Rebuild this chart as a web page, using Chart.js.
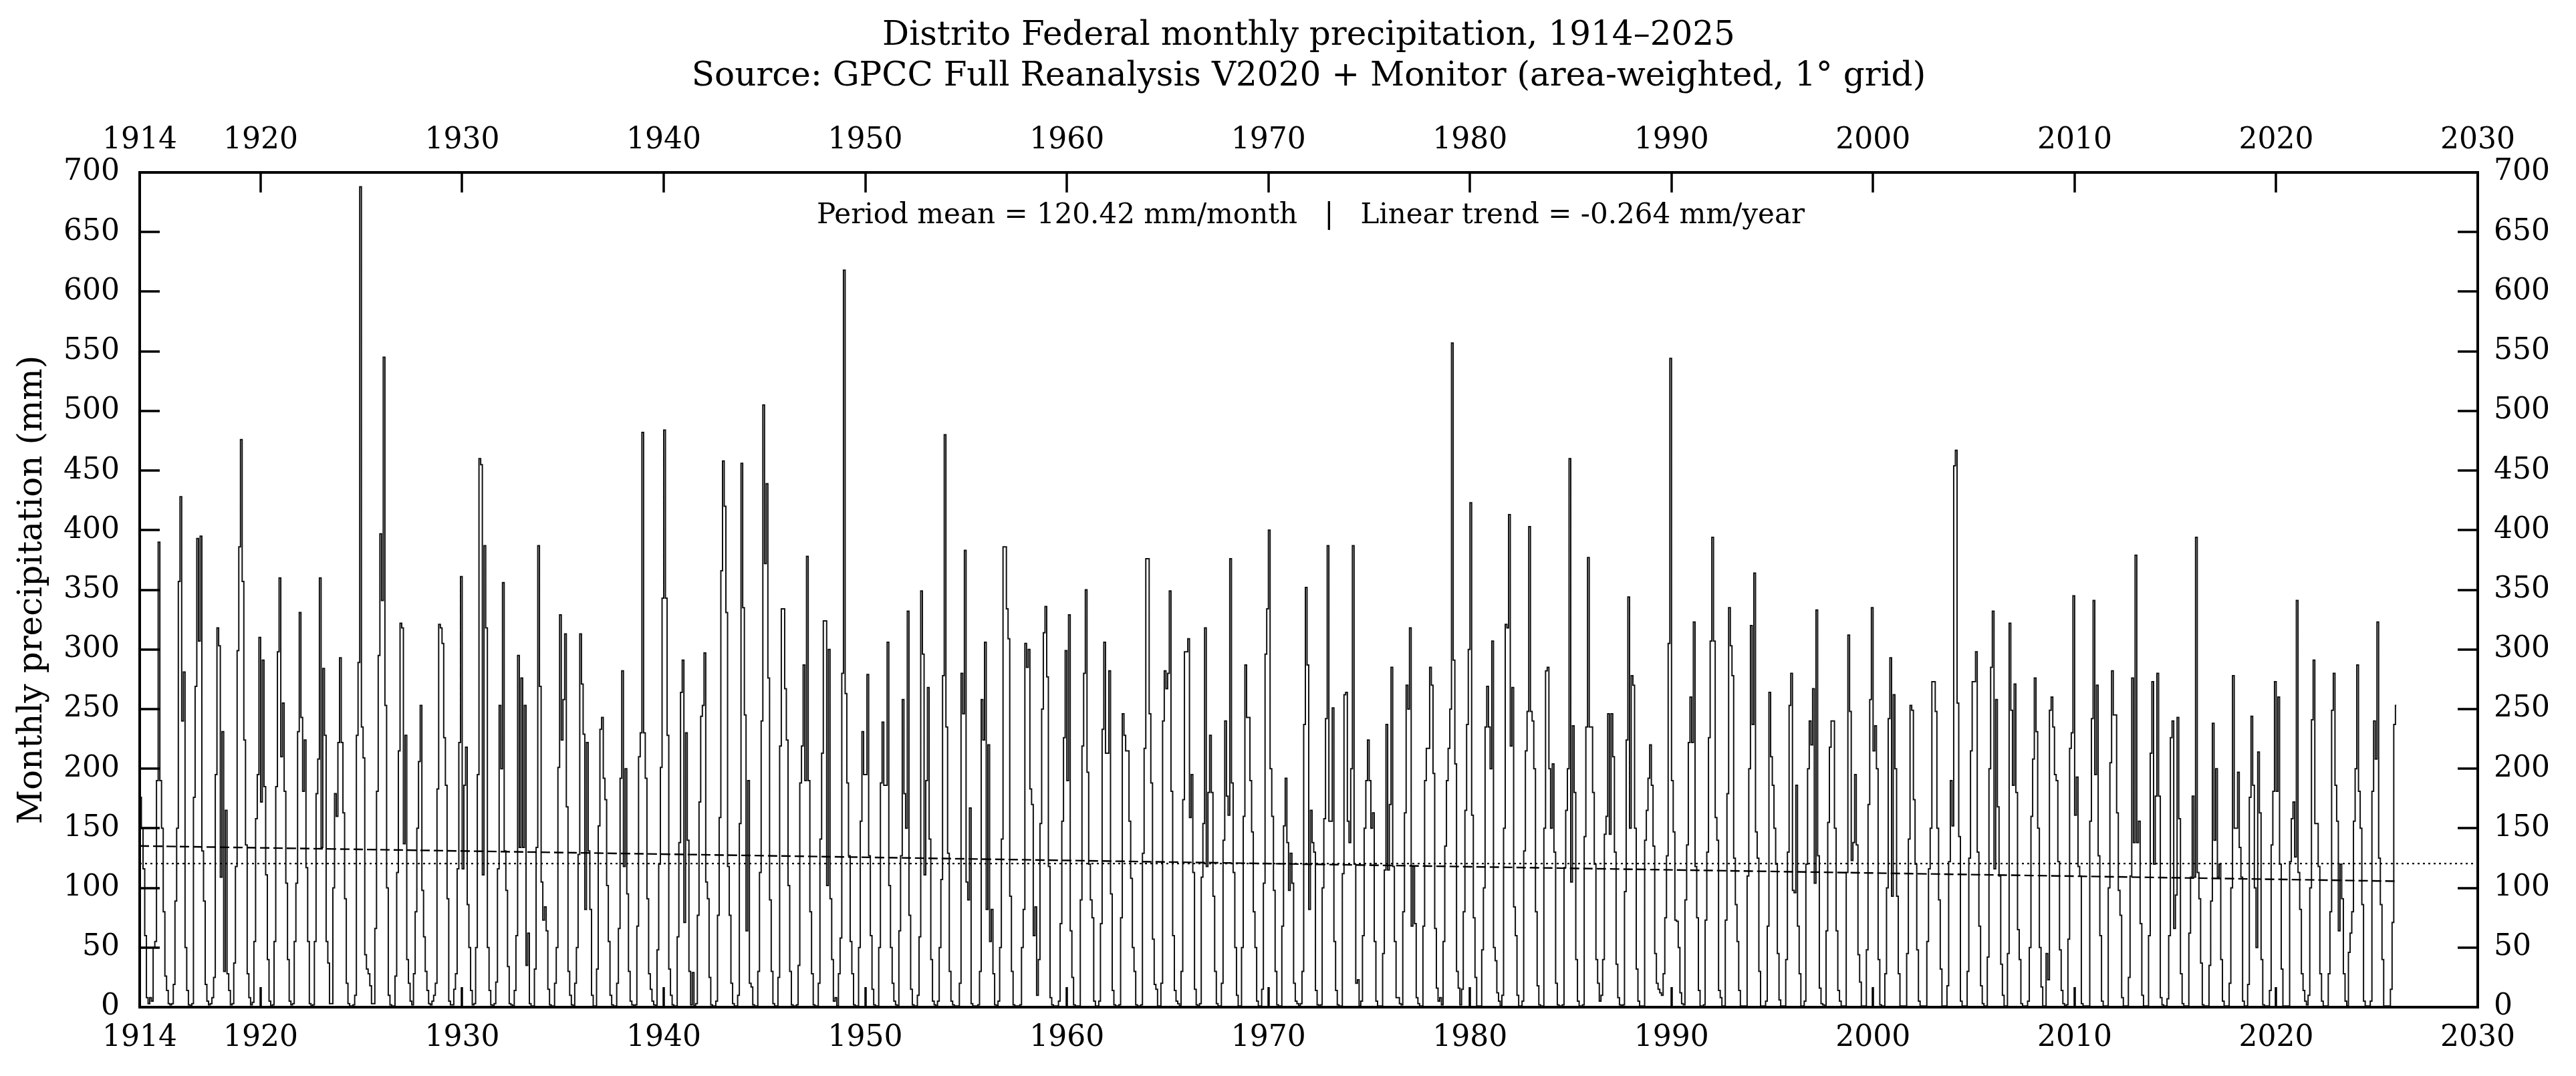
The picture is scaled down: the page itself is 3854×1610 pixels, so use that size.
<!DOCTYPE html>
<html>
<head>
<meta charset="utf-8">
<script src="https://cdn.jsdelivr.net/npm/chart.js@4.4.1/dist/chart.umd.min.js"></script>
<style>
  html, body { margin: 0; padding: 0; background: #fff; }
</style>
</head>
<body>
<canvas id="chart1" width="3854" height="1610"></canvas>
<script>
/* monthly precipitation (mm), Jan..Dec, one row per year, grouped by decade */
const p1910s = [
  176, 150, 116, 60, 8, 3, 8, 5, 50, 55, 190, 390,     // 1914
  190, 150, 80, 26, 14, 3, 2, 3, 19, 89, 150, 357,     // 1915
  428, 240, 281, 50, 14, 2, 1, 3, 176, 269, 393, 307,  // 1916
  395, 131, 89, 19, 5, 2, 3, 8, 25, 195, 318, 303,     // 1917
  109, 231, 30, 165, 28, 14, 2, 3, 37, 118, 299, 386,  // 1918
  476, 357, 224, 136, 28, 8, 2, 4, 55, 158, 195, 310   // 1919
];
const p1920s = [
  172, 291, 185, 111, 40, 5, 1, 2, 55, 185, 298, 360,
  210, 255, 181, 104, 40, 5, 2, 3, 55, 104, 231, 331,
  243, 181, 224, 117, 55, 3, 1, 2, 55, 179, 208, 360,
  134, 284, 228, 55, 37, 3, 3, 100, 179, 160, 222, 293,
  222, 163, 91, 20, 3, 1, 1, 2, 10, 228, 289, 688,
  235, 209, 44, 32, 28, 18, 3, 3, 66, 181, 295, 397,
  341, 545, 253, 100, 10, 2, 1, 1, 26, 113, 215, 322,
  318, 137, 228, 40, 20, 5, 2, 28, 80, 150, 206, 253,
  98, 59, 30, 14, 3, 2, 5, 10, 20, 183, 321, 318,
  305, 226, 186, 91, 5, 2, 2, 15, 28, 116, 222, 361
];
const p1930s = [
  116, 186, 218, 86, 50, 14, 2, 3, 50, 195, 460, 455,
  111, 387, 318, 50, 14, 2, 1, 3, 21, 116, 253, 200,
  356, 131, 98, 34, 3, 2, 1, 14, 60, 295, 134, 276,
  134, 253, 35, 62, 3, 1, 1, 32, 134, 387, 269, 105,
  73, 84, 64, 15, 2, 1, 1, 20, 50, 201, 329, 224,
  258, 313, 168, 30, 10, 2, 1, 20, 50, 128, 313, 271,
  229, 82, 222, 131, 82, 10, 1, 1, 32, 152, 233, 243,
  192, 174, 102, 55, 10, 2, 1, 1, 20, 66, 192, 282,
  118, 200, 95, 30, 5, 2, 1, 2, 68, 210, 230, 482,
  230, 192, 91, 28, 15, 5, 2, 1, 48, 120, 201, 343
];
const p1940s = [
  484, 343, 228, 32, 10, 2, 1, 1, 59, 138, 264, 291,
  71, 230, 140, 30, 2, 29, 1, 3, 77, 172, 244, 253,
  297, 105, 91, 25, 2, 1, 1, 5, 77, 159, 366, 458,
  420, 331, 118, 77, 20, 3, 1, 1, 10, 154, 456, 335,
  245, 64, 190, 20, 17, 2, 1, 1, 30, 113, 240, 505,
  372, 439, 276, 90, 30, 3, 1, 1, 25, 219, 334, 334,
  267, 224, 102, 30, 2, 1, 1, 2, 35, 188, 219, 287,
  190, 378, 190, 80, 28, 2, 1, 1, 20, 141, 213, 324,
  324, 102, 300, 91, 40, 5, 8, 1, 28, 58, 280, 618,
  263, 188, 127, 55, 28, 2, 1, 1, 50, 156, 231, 195
];
const p1950s = [
  195, 279, 127, 60, 15, 2, 1, 1, 50, 188, 239, 186,
  186, 306, 102, 50, 20, 5, 2, 1, 64, 127, 258, 179,
  150, 332, 77, 15, 2, 1, 1, 10, 59, 349, 296, 111,
  190, 268, 141, 40, 5, 2, 1, 5, 50, 107, 278, 480,
  235, 129, 30, 5, 2, 1, 1, 1, 20, 280, 246, 383,
  105, 90, 167, 3, 1, 1, 1, 2, 30, 258, 224, 306,
  82, 220, 55, 82, 28, 2, 1, 5, 50, 141, 386, 386,
  334, 309, 93, 30, 2, 1, 1, 1, 2, 50, 82, 305,
  285, 300, 183, 170, 60, 84, 10, 40, 154, 250, 314, 336,
  277, 118, 8, 2, 1, 1, 1, 5, 70, 156, 226, 299
];
const p1960s = [
  190, 329, 64, 25, 2, 1, 1, 1, 90, 219, 280, 350,
  197, 120, 90, 75, 5, 1, 1, 5, 70, 233, 306, 213,
  213, 282, 95, 14, 2, 1, 1, 2, 75, 246, 228, 215,
  215, 156, 108, 50, 30, 2, 1, 1, 2, 129, 217, 376,
  376, 246, 188, 57, 19, 15, 1, 1, 20, 240, 282, 267,
  280, 349, 181, 60, 14, 5, 3, 1, 30, 174, 298, 298,
  309, 159, 195, 113, 15, 2, 1, 3, 109, 154, 318, 118,
  180, 228, 180, 93, 30, 3, 1, 1, 20, 140, 240, 177,
  161, 376, 188, 113, 50, 10, 1, 1, 50, 160, 287, 243,
  243, 190, 147, 80, 50, 5, 1, 1, 15, 104, 296, 334
];
const p1970s = [
  400, 200, 160, 98, 30, 2, 1, 1, 68, 152, 192, 138,
  98, 129, 104, 20, 5, 3, 1, 3, 30, 237, 352, 287,
  82, 165, 138, 130, 14, 2, 1, 2, 100, 158, 242, 387,
  156, 156, 251, 55, 14, 2, 1, 1, 112, 262, 264, 156,
  138, 200, 387, 120, 20, 23, 1, 5, 60, 150, 190, 224,
  190, 150, 163, 55, 5, 1, 1, 1, 45, 115, 237, 115,
  170, 285, 118, 55, 8, 8, 3, 2, 80, 163, 270, 250,
  318, 68, 118, 70, 8, 3, 1, 1, 68, 190, 217, 217,
  285, 270, 196, 66, 16, 5, 8, 2, 55, 135, 190, 217,
  250, 557, 291, 204, 30, 16, 2, 15, 80, 165, 237, 300
];
const p1980s = [
  423, 161, 75, 25, 1, 1, 1, 48, 100, 235, 269, 235,
  200, 307, 50, 39, 12, 5, 1, 10, 150, 321, 318, 413,
  219, 268, 84, 60, 10, 1, 1, 5, 131, 215, 248, 403,
  248, 240, 200, 80, 18, 2, 1, 1, 150, 282, 285, 200,
  150, 204, 130, 20, 2, 1, 1, 2, 117, 165, 200, 460,
  105, 236, 180, 40, 5, 1, 1, 2, 143, 235, 377, 235,
  235, 180, 120, 40, 20, 5, 10, 40, 145, 160, 246, 145,
  246, 210, 130, 36, 8, 2, 1, 2, 97, 224, 344, 150,
  278, 270, 150, 32, 5, 1, 1, 1, 140, 165, 192, 220,
  186, 135, 45, 20, 15, 12, 10, 28, 75, 127, 305, 544
];
const p1990s = [
  190, 147, 73, 72, 50, 12, 3, 2, 90, 136, 222, 260,
  222, 323, 118, 75, 14, 1, 1, 2, 73, 130, 226, 307,
  394, 307, 159, 140, 14, 8, 1, 1, 73, 179, 335, 303,
  278, 125, 86, 55, 14, 1, 1, 1, 1, 110, 200, 320,
  237, 364, 147, 125, 30, 1, 1, 1, 5, 68, 264, 210,
  186, 150, 120, 45, 6, 1, 1, 1, 40, 130, 253, 280,
  98, 96, 186, 68, 28, 1, 1, 5, 120, 200, 240, 220,
  267, 104, 333, 127, 16, 3, 2, 1, 64, 155, 218, 240,
  240, 150, 64, 14, 5, 1, 1, 1, 113, 312, 248, 123,
  138, 195, 136, 44, 21, 1, 1, 1, 48, 170, 258, 335
];
const p2000s = [
  215, 236, 200, 40, 2, 1, 1, 28, 100, 242, 293, 93,
  262, 200, 93, 28, 1, 1, 1, 1, 45, 141, 253, 249,
  174, 120, 48, 5, 1, 1, 1, 1, 55, 116, 150, 273,
  273, 248, 150, 90, 32, 1, 1, 1, 18, 122, 190, 152,
  454, 467, 255, 143, 5, 1, 1, 1, 30, 125, 215, 273,
  273, 298, 130, 68, 18, 3, 1, 1, 42, 200, 285, 332,
  116, 258, 168, 110, 36, 10, 1, 1, 45, 322, 249, 186,
  271, 180, 65, 40, 3, 1, 1, 1, 5, 50, 160, 208,
  276, 231, 150, 50, 17, 1, 1, 45, 23, 249, 260, 235,
  195, 190, 122, 48, 14, 3, 1, 2, 57, 217, 230, 345
];
const p2010s = [
  161, 193, 118, 110, 3, 1, 1, 1, 1, 156, 242, 341,
  195, 270, 127, 60, 5, 1, 1, 1, 100, 205, 282, 245,
  245, 163, 98, 77, 8, 1, 1, 1, 25, 110, 276, 138,
  379, 138, 156, 70, 10, 1, 1, 1, 60, 213, 273, 120,
  177, 280, 177, 8, 2, 1, 1, 7, 60, 226, 240, 66,
  94, 243, 158, 28, 3, 1, 1, 1, 62, 109, 177, 109,
  394, 113, 91, 37, 2, 1, 1, 1, 35, 89, 238, 140,
  200, 109, 120, 40, 5, 1, 1, 1, 20, 100, 278, 150,
  150, 197, 134, 109, 5, 1, 1, 19, 176, 244, 186, 100,
  50, 214, 163, 40, 2, 1, 1, 1, 14, 136, 181, 273
];
const p2020s = [
  181, 260, 120, 32, 1, 1, 1, 1, 122, 158, 172, 126,
  341, 113, 82, 28, 14, 5, 2, 10, 100, 241, 291, 154,
  154, 118, 28, 5, 1, 1, 1, 28, 80, 249, 280, 186,
  156, 64, 120, 91, 28, 5, 1, 46, 62, 80, 156, 200,
  287, 181, 150, 86, 5, 1, 1, 1, 5, 181, 240, 208,
  323, 125, 86, 40, 1, 1, 1, 1, 15, 71, 237, 253     // 2025
];

const firstYear = 1914;
const xTicks = [1914, 1920, 1930, 1940, 1950, 1960, 1970, 1980, 1990, 2000, 2010, 2020, 2030];
const yTicks = [0, 50, 100, 150, 200, 250, 300, 350, 400, 450, 500, 550, 600, 650, 700];
const meanValue = 120.42;            // mm/month
const trendYears = [1914, 2026];
const trendValues = [135.2, 105.6];  // dashed linear trend, ends

const titleLines = [
  'Distrito Federal monthly precipitation, 1914\u20132025',
  'Source: GPCC Full Reanalysis V2020 + Monitor (area-weighted, 1\u00b0 grid)'
];
const noteText = 'Period mean = 120.42 mm/month   |   Linear trend = -0.264 mm/year';

const precip = [].concat(p1910s, p1920s, p1930s, p1940s, p1950s, p1960s,
  p1970s, p1980s, p1990s, p2000s, p2010s, p2020s);
const precipPoints = precip.map((v, i) => ({x: firstYear + (i + 0.5) / 12, y: v}));

const FONT = "'DejaVu Serif', 'Liberation Serif', serif";
const TITLE_SIZE = 50, TITLE_LH = 1.22, TITLE_PAD = 24;

/* inward ticks, frame and the note text */
const frameAndTicks = {
  id: 'frameAndTicks',
  afterDatasetsDraw(chart) {
    const {ctx, chartArea: a, scales} = chart;
    const len = 30;
    ctx.save();
    ctx.strokeStyle = '#000';
    ctx.lineWidth = 3.5;
    ctx.beginPath();
    xTicks.forEach(v => {
      const px = Math.round(scales.x.getPixelForValue(v));
      ctx.moveTo(px, a.bottom); ctx.lineTo(px, a.bottom - len);
      ctx.moveTo(px, a.top); ctx.lineTo(px, a.top + len);
    });
    yTicks.forEach(v => {
      const py = Math.round(scales.y.getPixelForValue(v));
      ctx.moveTo(a.left, py); ctx.lineTo(a.left + len, py);
      ctx.moveTo(a.right, py); ctx.lineTo(a.right - len, py);
    });
    ctx.stroke();
    ctx.lineWidth = 4;
    ctx.strokeRect(a.left, a.top, a.right - a.left, a.bottom - a.top);

    ctx.fillStyle = '#000';
    ctx.font = '42px ' + FONT;
    ctx.textAlign = 'center';
    ctx.textBaseline = 'middle';
    ctx.fillText(noteText, (a.left + a.right) / 2 + 3, a.top + 65);
    ctx.restore();
  }
};

const tickFont = {family: FONT, size: 44};
const yearLabel = v => String(v);

new Chart(document.querySelector('#chart1'), {
  type: 'line',
  data: {
    datasets: [{
      label: 'mean',
      data: [{x: xTicks[0], y: meanValue}, {x: xTicks[xTicks.length - 1], y: meanValue}],
      borderColor: '#000',
      borderWidth: 2.4,
      borderDash: [3, 5],
      pointRadius: 0,
      order: 1
    }, {
      label: 'trend',
      data: trendYears.map((yr, i) => ({x: yr, y: trendValues[i]})),
      borderColor: '#000',
      borderWidth: 2.4,
      borderDash: [14, 6],
      pointRadius: 0,
      order: 0
    }, {
      label: 'precip',
      data: precipPoints,
      borderColor: '#111',
      borderWidth: 2,
      stepped: 'middle',
      pointRadius: 0,
      order: 2
    }]
  },
  options: {
    responsive: false,
    devicePixelRatio: 1,
    animation: false,
    layout: {padding: 0},
    plugins: {
      legend: {display: false},
      tooltip: {enabled: false},
      title: {
        display: true,
        fullSize: false,   // centre the title over the plot area, not the canvas
        text: titleLines,
        color: '#000',
        font: {family: FONT, size: TITLE_SIZE, weight: 'normal', lineHeight: TITLE_LH},
        padding: {top: TITLE_PAD, bottom: 0}
      }
    },
    scales: {
      x: {
        type: 'linear', position: 'bottom', min: 1914, max: 2030,
        afterBuildTicks: s => { s.ticks = xTicks.map(v => ({value: v})); },
        afterFit: s => { s.height = 103; },
        grid: {display: false, drawTicks: false},
        border: {display: false},
        ticks: {font: tickFont, color: '#000', padding: 20, maxRotation: 0, autoSkip: false, callback: yearLabel}
      },
      x2: {
        type: 'linear', position: 'top', min: 1914, max: 2030,
        afterBuildTicks: s => { s.ticks = xTicks.map(v => ({value: v})); },
        afterFit: s => { s.height = 258 - (TITLE_PAD + 2 * TITLE_SIZE * TITLE_LH); },
        grid: {display: false, drawTicks: false},
        border: {display: false},
        ticks: {font: tickFont, color: '#000', padding: 21, maxRotation: 0, autoSkip: false, callback: yearLabel}
      },
      y: {
        type: 'linear', position: 'left', min: 0, max: 700,
        afterBuildTicks: s => { s.ticks = yTicks.map(v => ({value: v})); },
        afterFit: s => { s.width = 209; },
        grid: {display: false, drawTicks: false},
        border: {display: false},
        ticks: {font: tickFont, color: '#000', padding: 30},
        title: {
          display: true,
          text: 'Monthly precipitation (mm)',
          color: '#000',
          font: {family: FONT, size: 50},
          padding: {top: 19, bottom: 0}
        }
      },
      y2: {
        type: 'linear', position: 'right', min: 0, max: 700,
        afterBuildTicks: s => { s.ticks = yTicks.map(v => ({value: v})); },
        afterFit: s => { s.width = 147; },
        grid: {display: false, drawTicks: false},
        border: {display: false},
        ticks: {font: tickFont, color: '#000', padding: 24}
      }
    }
  },
  plugins: [frameAndTicks]
});
</script>
</body>
</html>
